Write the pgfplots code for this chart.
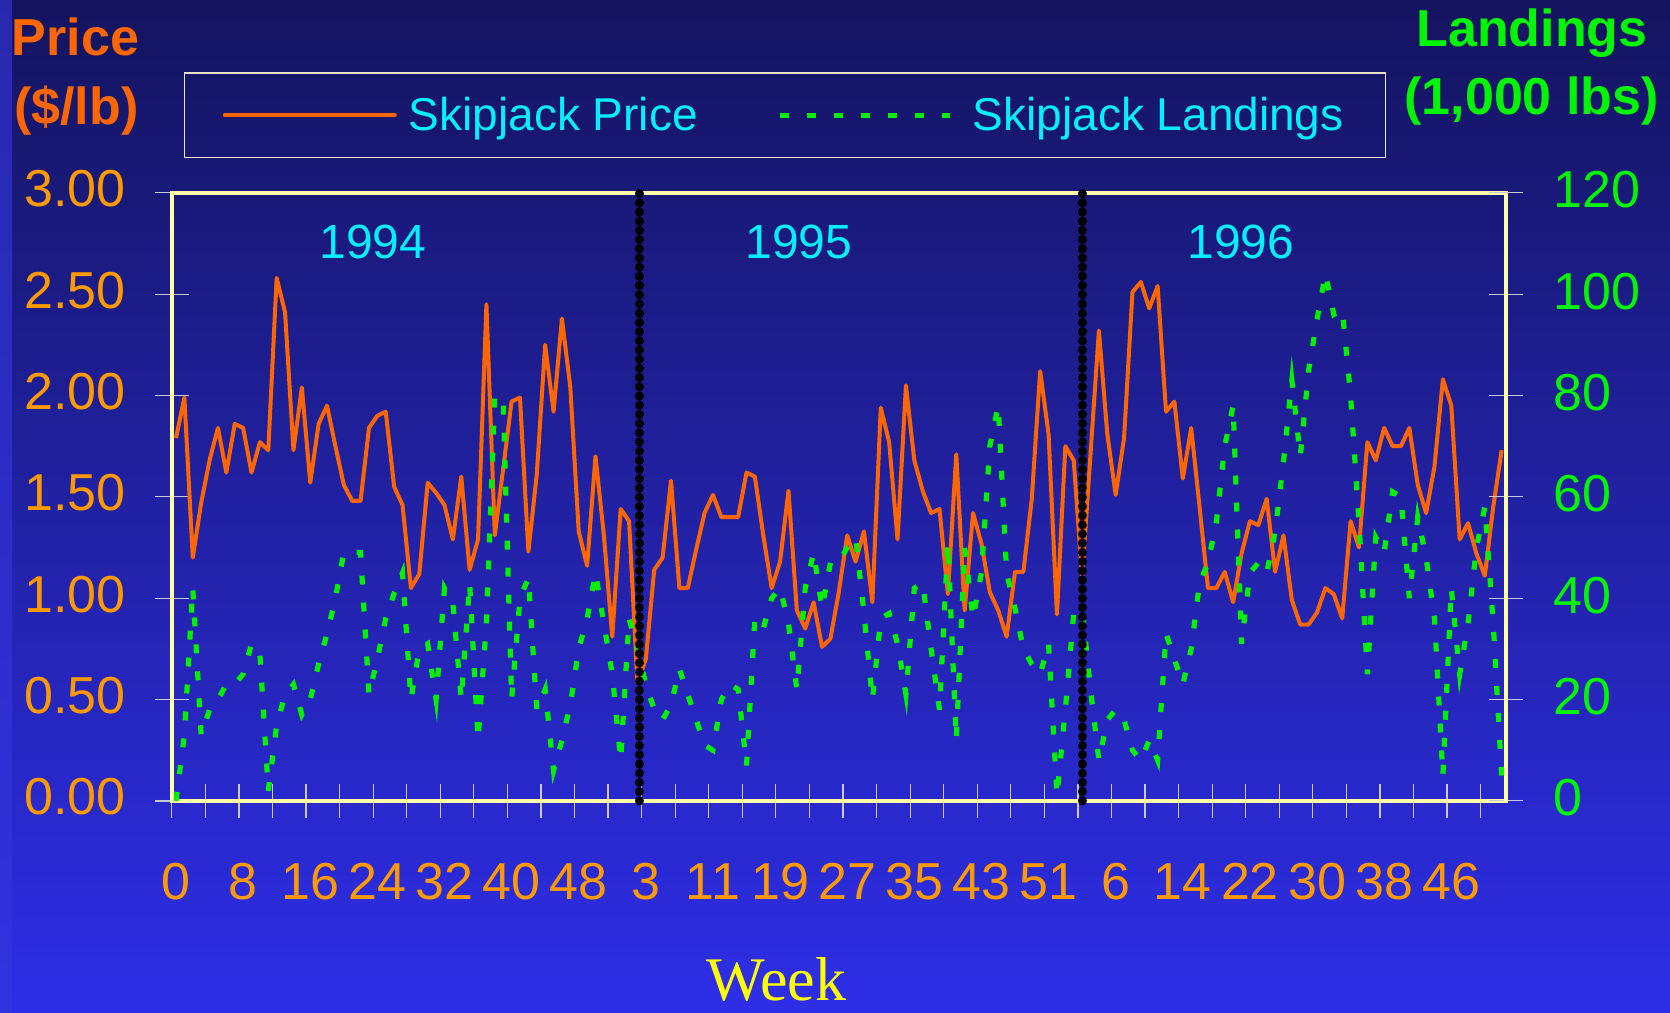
\documentclass[border=0pt]{standalone}
\usepackage{fontspec}
\setmainfont{Liberation Sans}
\newfontfamily\timesfont{Liberation Serif}
\usepackage{pgfplots}
\pgfplotsset{compat=1.18}

\definecolor{bgtop}{RGB}{20,20,95}
\definecolor{bgbot}{RGB}{46,46,232}
\definecolor{priceorange}{RGB}{255,102,0}
\definecolor{ticklab}{RGB}{255,153,0}
\definecolor{landgreen}{RGB}{0,240,0}
\definecolor{labgreen}{RGB}{0,245,0}
\definecolor{cyantext}{RGB}{0,240,255}
\definecolor{framecream}{RGB}{255,255,170}
\definecolor{legframe}{RGB}{230,230,200}
\definecolor{tickgray}{RGB}{200,200,215}
\definecolor{weekyellow}{RGB}{255,255,0}
\definecolor{stripA}{RGB}{40,40,175}
\definecolor{stripB}{RGB}{12,12,45}
\definecolor{stripC}{RGB}{50,50,225}

\begin{document}
\begin{tikzpicture}
\useasboundingbox (0pt,0pt) rectangle (835pt,506pt);
\shade[top color=bgtop, bottom color=bgbot] (0pt,0pt) rectangle (835pt,506pt);
\shade[top color=stripA, middle color=stripB, bottom color=stripC] (0pt,0pt) rectangle (6pt,506pt);

\begin{axis}[
  at={(85.9pt,105.55pt)}, anchor=south west,
  scale only axis, width=667pt, height=304.05pt,
  xmin=-0.5, xmax=158.5, ymin=0, ymax=3,
  axis line style={-, draw=framecream, line width=2pt},
  xtick={-0.5,3.5,...,155.5},
  xticklabels={},
  extra x ticks={0,8,...,152},
  extra x tick labels={0,8,16,24,32,40,48,3,11,19,27,35,43,51,6,14,22,30,38,46},
  extra x tick style={major tick length=0pt, tick style={draw=none},
    xticklabel style={text=ticklab, anchor=base, inner sep=0pt, yshift=-49.5pt}},
  x tick style={draw=tickgray, line width=0.6pt},
  y tick style={draw=tickgray, line width=0.6pt},
  tick align=center, major tick length=17pt,
  xtick pos=bottom, ytick pos=left,
  ytick={0,0.5,...,3},
  tick label style={font=\fontsize{26}{31}\selectfont},
  yticklabel style={text=ticklab, anchor=east, inner sep=0pt, xshift=-14.5pt, yshift=2pt,
    /pgf/number format/.cd, fixed, fixed zerofill, precision=2, assume math mode=true},
  clip=false,
]
\addplot[draw=priceorange, line width=2pt, line join=round, no markers] coordinates {
(0,1.79) (1,1.99) (2,1.20) (3,1.47) (4,1.68) (5,1.84) (6,1.62) (7,1.86) (8,1.84) (9,1.62)
(10,1.77) (11,1.73) (12,2.58) (13,2.41) (14,1.73) (15,2.04) (16,1.57) (17,1.86) (18,1.95) (19,1.75)
(20,1.56) (21,1.48) (22,1.48) (23,1.84) (24,1.90) (25,1.92) (26,1.55) (27,1.46) (28,1.05) (29,1.12)
(30,1.57) (31,1.52) (32,1.46) (33,1.29) (34,1.60) (35,1.14) (36,1.29) (37,2.45) (38,1.31) (39,1.64)
(40,1.97) (41,1.99) (42,1.23) (43,1.61) (44,2.25) (45,1.92) (46,2.38) (47,2.04) (48,1.33) (49,1.16)
(50,1.70) (51,1.31) (52,0.81) (53,1.44) (54,1.38) (55,0.58) (56,0.70) (57,1.14) (58,1.20) (59,1.58)
(60,1.05) (61,1.05) (62,1.24) (63,1.42) (64,1.51) (65,1.40) (66,1.40) (67,1.40) (68,1.62) (69,1.60)
(70,1.31) (71,1.05) (72,1.18) (73,1.53) (74,0.94) (75,0.85) (76,0.98) (77,0.76) (78,0.80) (79,1.03)
(80,1.31) (81,1.18) (82,1.33) (83,0.98) (84,1.94) (85,1.77) (86,1.29) (87,2.05) (88,1.68) (89,1.53)
(90,1.42) (91,1.44) (92,1.02) (93,1.71) (94,0.94) (95,1.42) (96,1.27) (97,1.03) (98,0.94) (99,0.81)
(100,1.13) (101,1.13) (102,1.49) (103,2.12) (104,1.81) (105,0.92) (106,1.75) (107,1.68) (108,1.10) (109,1.71)
(110,2.32) (111,1.81) (112,1.51) (113,1.79) (114,2.51) (115,2.56) (116,2.43) (117,2.54) (118,1.92) (119,1.97)
(120,1.59) (121,1.84) (122,1.45) (123,1.05) (124,1.05) (125,1.13) (126,0.98) (127,1.22) (128,1.38) (129,1.36)
(130,1.49) (131,1.13) (132,1.31) (133,0.99) (134,0.87) (135,0.87) (136,0.93) (137,1.05) (138,1.02) (139,0.90)
(140,1.38) (141,1.25) (142,1.77) (143,1.68) (144,1.84) (145,1.75) (146,1.75) (147,1.84) (148,1.56) (149,1.42)
(150,1.65) (151,2.08) (152,1.95) (153,1.29) (154,1.37) (155,1.22) (156,1.11) (157,1.45) (158,1.73)
};
\end{axis}

\begin{axis}[
  at={(85.9pt,105.55pt)}, anchor=south west,
  scale only axis, width=667pt, height=304.05pt,
  xmin=-0.5, xmax=158.5, ymin=0, ymax=120,
  axis x line=none, axis y line*=right,
  axis line style={-, draw=framecream, line width=2pt},
  ytick={0,20,...,120},
  tick align=center, major tick length=17pt,
  y tick style={draw=tickgray, line width=0.6pt},
  tick label style={font=\fontsize{26}{31}\selectfont},
  yticklabel style={text=labgreen, anchor=west, inner sep=0pt, xshift=15pt, yshift=1.5pt,
    /pgf/number format/assume math mode=true},
  clip=false,
  legend style={
    at={(axis description cs:0.0093,1.198)}, anchor=north west,
    draw=legframe, line width=0.6pt, fill=none,
    text=cyantext, font=\fontsize{23}{27.6}\selectfont,
    legend columns=2, inner xsep=19pt, inner ysep=10pt,
    /tikz/every even column/.append style={column sep=38pt},
    legend cell align=left,
  },
  legend image code/.code={\draw[#1] (0pt,0pt) -- (85pt,0pt);},
]
\addlegendimage{draw=priceorange, line width=2pt, line cap=round}
\addlegendentry{\hspace{4pt}Skipjack Price}
\addplot[draw=landgreen, line width=2.6pt, dash pattern=on 4.5pt off 9pt, no markers] coordinates {
(0,0) (1,13) (2,42) (3,13) (4,18) (5,20) (6,23) (7,23) (8,25) (9,31)
(10,29) (11,2) (12,15) (13,21) (14,23) (15,17) (16,20) (17,27) (18,33) (19,40)
(20,49) (21,49) (22,49) (23,21) (24,28) (25,36) (26,41) (27,45) (28,20) (29,30)
(30,31) (31,20) (32,42) (33,39) (34,20) (35,43) (36,12) (37,35) (38,80) (39,79)
(40,20) (41,40) (42,44) (43,18) (44,22) (45,6) (46,12) (47,19) (48,30) (49,36)
(50,45) (51,35) (52,25) (53,8) (54,36) (55,30) (56,23) (57,18) (58,16) (59,19)
(60,26) (61,21) (62,16) (63,11) (64,10) (65,20) (66,23) (67,22) (68,7) (69,36)
(70,34) (71,40) (72,42) (73,35) (74,22) (75,42) (76,49) (77,38) (78,47) (79,47)
(80,50) (81,52) (82,37) (83,20) (84,36) (85,37) (86,31) (87,21) (88,42) (89,43)
(90,30) (91,18) (92,51) (93,12) (94,50) (95,36) (96,45) (97,70) (98,78) (99,45)
(100,38) (101,30) (102,27) (103,25) (104,31) (105,1) (106,18) (107,37) (108,38) (109,22)
(110,8) (111,16) (112,18) (113,16) (114,10) (115,8) (116,12) (117,8) (118,33) (119,28)
(120,23) (121,30) (122,43) (123,47) (124,55) (125,70) (126,78) (127,31) (128,45) (129,47)
(130,45) (131,53) (132,67) (133,83) (134,68) (135,85) (136,95) (137,104) (138,96) (139,97)
(140,80) (141,55) (142,25) (143,52) (144,49) (145,61) (146,60) (147,40) (148,56) (149,48)
(150,36) (151,5) (152,42) (153,25) (154,35) (155,50) (156,58) (157,35) (158,5)
};
\addlegendentry{\hspace{8pt}Skipjack Landings}
\addplot[forget plot, black, line width=4.6pt, dash pattern=on 0.1pt off 4.5pt, line cap=round] coordinates {(55.2,0) (55.2,121.2)};
\addplot[forget plot, black, line width=4.6pt, dash pattern=on 0.1pt off 4.5pt, line cap=round] coordinates {(108.0,0) (108.0,121.2)};
\end{axis}

\node[anchor=base, text=priceorange, font=\bfseries\fontsize{26}{31}\selectfont] at (37.8pt,478.3pt) {Price};
\node[anchor=base, text=priceorange, font=\bfseries\fontsize{26}{31}\selectfont] at (38.1pt,443.7pt) {(\$/lb)};
\node[anchor=base, text=labgreen, font=\bfseries\fontsize{26}{31}\selectfont] at (766pt,482.5pt) {Landings};
\node[anchor=base, text=labgreen, font=\bfseries\fontsize{26}{31}\selectfont] at (765.8pt,448.5pt) {(1,000 lbs)};
\node[anchor=base, text=cyantext, font=\fontsize{24}{29}\selectfont] at (186.4pt,376.5pt) {1994};
\node[anchor=base, text=cyantext, font=\fontsize{24}{29}\selectfont] at (399.4pt,376.5pt) {1995};
\node[anchor=base, text=cyantext, font=\fontsize{24}{29}\selectfont] at (620.4pt,376.5pt) {1996};
\node[anchor=base, inner sep=0pt, text=weekyellow, font=\timesfont\fontsize{31}{36}\selectfont] at (388.3pt,6pt) {Week};
\end{tikzpicture}
\end{document}
